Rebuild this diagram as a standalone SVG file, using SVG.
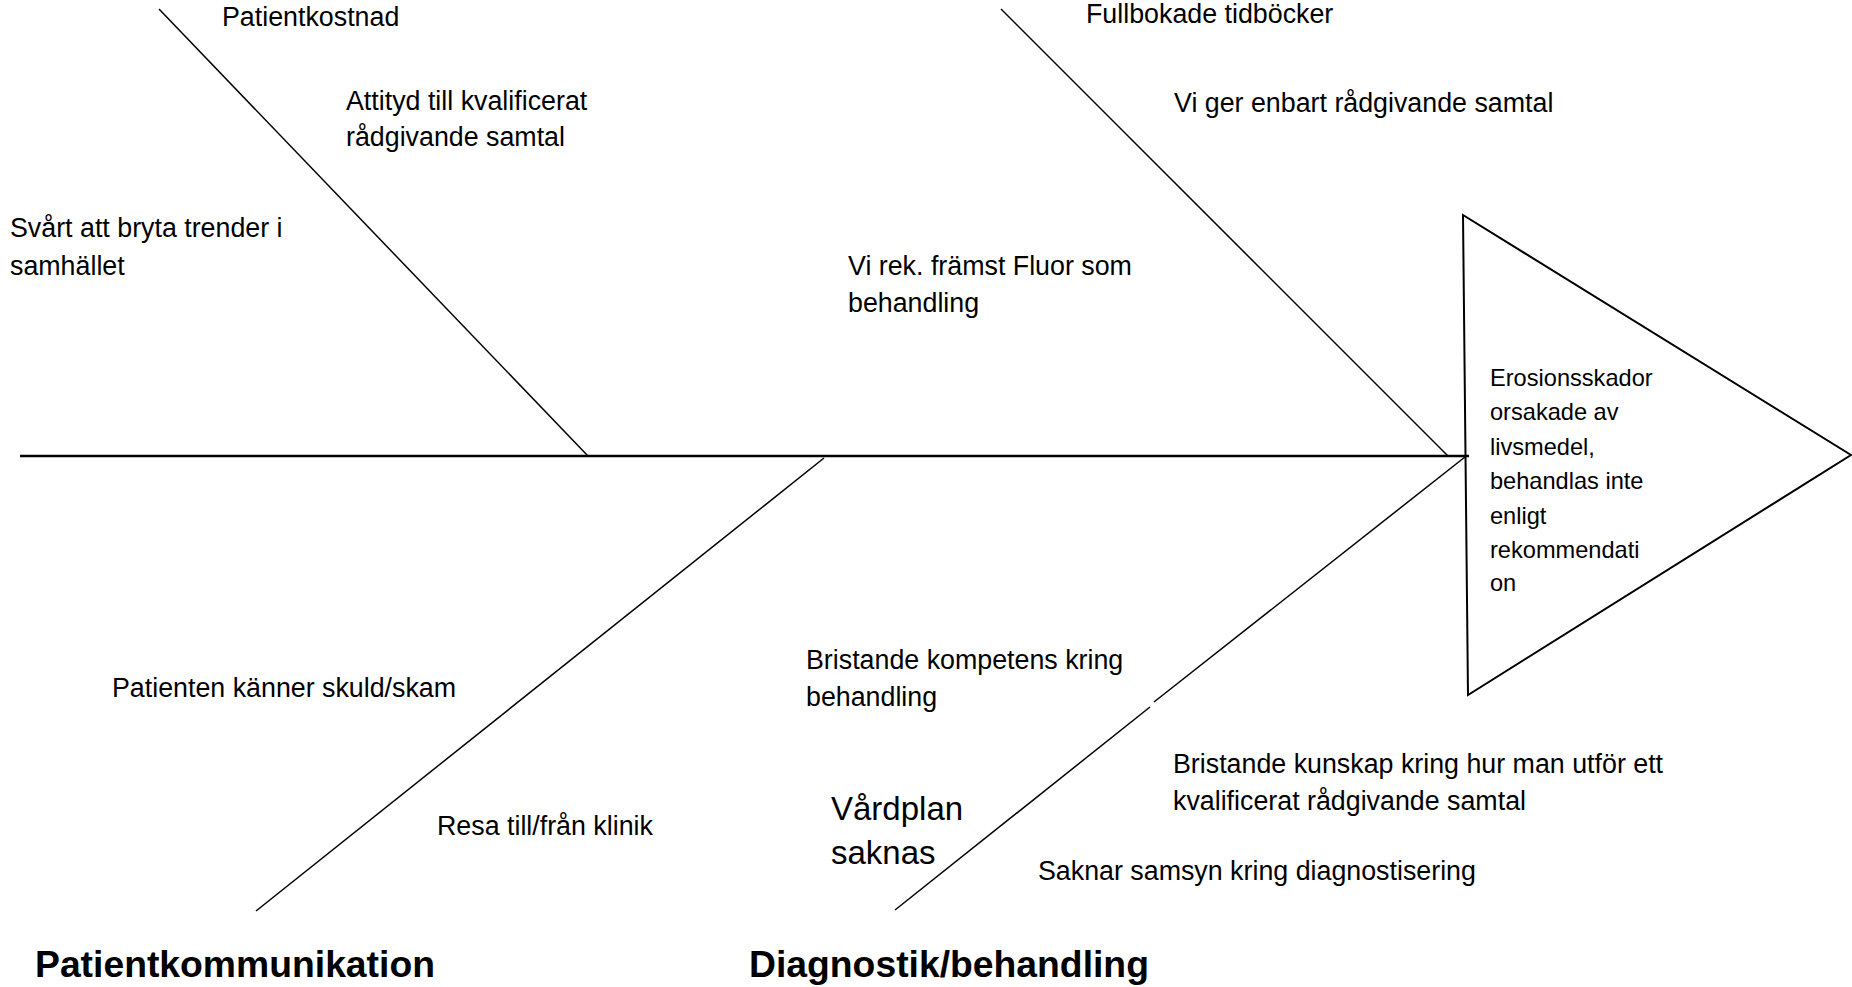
<svg xmlns="http://www.w3.org/2000/svg" width="1852" height="987" viewBox="0 0 1852 987">
<style>
.t{font-family:"Liberation Sans",Arial,sans-serif;font-size:26.8px;fill:#000}
.s{font-family:"Liberation Sans",Arial,sans-serif;font-size:23.6px;fill:#000}
.v{font-family:"Liberation Sans",Arial,sans-serif;font-size:33px;fill:#000}
.h{font-family:"Liberation Sans",Arial,sans-serif;font-size:37.3px;font-weight:bold;fill:#000}
.bone{stroke:#000;stroke-width:1.5;fill:none}
.spine{stroke:#000;stroke-width:2.5;fill:none}
</style>
<rect width="1852" height="987" fill="#fff"/>
<g id="connectors">
<line class="spine" x1="20" y1="456" x2="1469" y2="456"/>
<line class="bone" x1="159" y1="9" x2="588" y2="456"/>
<line class="bone" x1="1001" y1="9" x2="1448" y2="456"/>
<line class="bone" x1="824" y1="458" x2="256" y2="911"/>
<line class="bone" x1="1465" y1="457" x2="1154" y2="702"/>
<line class="bone" x1="1150" y1="707" x2="895" y2="910"/>
</g>
<g id="head">
<polygon points="1463,215 1851,455 1468,695" fill="none" stroke="#000" stroke-width="2" stroke-linejoin="miter"/>
<text class="s" x="1490" y="386">Erosionsskador</text>
<text class="s" x="1490" y="420">orsakade av</text>
<text class="s" x="1490" y="455">livsmedel,</text>
<text class="s" x="1490" y="489">behandlas inte</text>
<text class="s" x="1490" y="524">enligt</text>
<text class="s" x="1490" y="558">rekommendati</text>
<text class="s" x="1490" y="591">on</text>
</g>
<g id="cause-patientkostnad"><text class="t" x="222" y="26">Patientkostnad</text></g>
<g id="cause-attityd"><text class="t" x="346" y="110">Attityd till kvalificerat</text><text class="t" x="346" y="146">rådgivande samtal</text></g>
<g id="cause-trender"><text class="t" x="10" y="237">Svårt att bryta trender i</text><text class="t" x="10" y="275">samhället</text></g>
<g id="cause-fluor"><text class="t" x="848" y="275">Vi rek. främst Fluor som</text><text class="t" x="848" y="312">behandling</text></g>
<g id="cause-tidbocker"><text class="t" x="1086" y="23">Fullbokade tidböcker</text></g>
<g id="cause-samtal"><text class="t" x="1174" y="112">Vi ger enbart rådgivande samtal</text></g>
<g id="cause-skuld"><text class="t" x="112" y="697">Patienten känner skuld/skam</text></g>
<g id="cause-resa"><text class="t" x="437" y="835">Resa till/från klinik</text></g>
<g id="cause-kompetens"><text class="t" x="806" y="669">Bristande kompetens kring</text><text class="t" x="806" y="706">behandling</text></g>
<g id="cause-vardplan"><text class="v" x="831" y="820">Vårdplan</text><text class="v" x="831" y="864">saknas</text></g>
<g id="cause-kunskap"><text class="t" x="1173" y="773">Bristande kunskap kring hur man utför ett</text><text class="t" x="1173" y="810">kvalificerat rådgivande samtal</text></g>
<g id="cause-samsyn"><text class="t" x="1038" y="880">Saknar samsyn kring diagnostisering</text></g>
<g id="category-patientkommunikation"><text class="h" x="35" y="977">Patientkommunikation</text></g>
<g id="category-diagnostik"><text class="h" x="749" y="977">Diagnostik/behandling</text></g>
</svg>
